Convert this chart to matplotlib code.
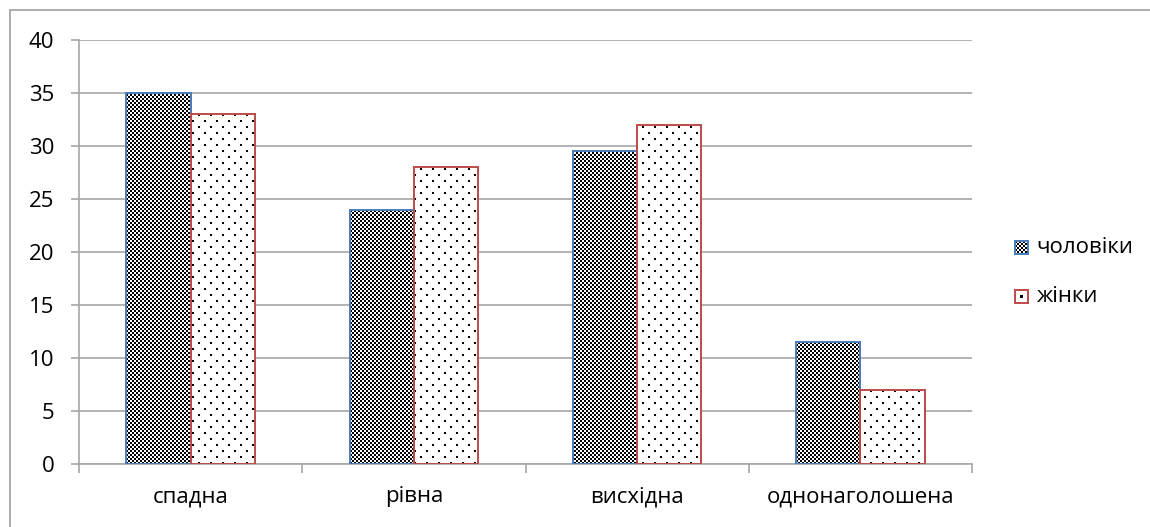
import numpy as np
import matplotlib
matplotlib.use("Agg")
import matplotlib.pyplot as plt
from matplotlib.patches import Rectangle

# ---- data ----
categories = ["спадна", "рівна", "висхідна", "однонаголошена"]
men = [35, 24, 29.5, 11.5]
women = [33, 28, 32, 7]
series_names = ["чоловіки", "жінки"]
y_ticks = [0, 5, 10, 15, 20, 25, 30, 35, 40]

# ---- style ----
W, H, DPI = 1150, 527, 100
FS = 16
GRID = "#A6A6A6"
BLUE = "#4A7EBB"
RED = "#BE4B48"

plt.rcParams["font.family"] = ["Open Sans", "DejaVu Sans"]
plt.rcParams["text.color"] = "#000000"

fig = plt.figure(figsize=(W / DPI, H / DPI), dpi=DPI)
fig.patch.set_facecolor("white")

# chart frame (left and top edges inside the canvas)
fig.add_artist(Rectangle((10 / W, -0.2), 1.3, 1.2 - 10 / H,
                         transform=fig.transFigure, fill=False,
                         edgecolor=GRID, linewidth=1.3))

AX_L, AX_R, AX_T, AX_B = 79, 972, 40, 464
rect = [AX_L / W, 1 - AX_B / H, (AX_R - AX_L) / W, (AX_B - AX_T) / H]
XLIM = (-0.5, len(categories) - 0.5)
YLIM = (0, 40)

# background axes: horizontal gridlines only
ax_bg = fig.add_axes(rect, zorder=0)
ax_bg.set_xlim(*XLIM)
ax_bg.set_ylim(*YLIM)
ax_bg.set_yticks(y_ticks)
ax_bg.set_xticks([])
ax_bg.yaxis.grid(True, color=GRID, linewidth=1.2)
ax_bg.tick_params(axis="y", length=0, labelleft=False)
for sp in ax_bg.spines.values():
    sp.set_visible(False)

# main axes: bars, spines, ticks, labels (transparent background)
ax = fig.add_axes(rect, zorder=2)
ax.patch.set_visible(False)

x = np.arange(len(categories))
bw = 0.288
men_bars = ax.bar(x - bw / 2, men, bw, facecolor="none", edgecolor=BLUE,
                  linewidth=1.4, zorder=3)
women_bars = ax.bar(x + bw / 2, women, bw, facecolor="none", edgecolor=RED,
                    linewidth=1.4, zorder=3)

ax.set_xlim(*XLIM)
ax.set_ylim(*YLIM)
ax.set_yticks(y_ticks)
ax.set_xticks(x)
ax.set_xticklabels(categories, fontsize=FS)
ax.set_xticks(np.arange(-0.5, len(categories), 1.0), minor=True)
ax.tick_params(axis="x", which="major", length=0, pad=16)
ax.tick_params(axis="x", which="minor", length=6.5, width=1.2, color=GRID)
ax.tick_params(axis="y", length=5.8, width=1.2, color=GRID, pad=12,
               labelsize=FS)
for side in ("top", "right"):
    ax.spines[side].set_visible(False)
for side in ("left", "bottom"):
    ax.spines[side].set_color(GRID)
    ax.spines[side].set_linewidth(1.2)


def checker(px, py):
    return (((px // 2) + (py // 2)) % 2).astype(float)


def dots(px, py):
    row = py // 6
    on = (py % 6 < 2) & (((px + (row % 2) * 6) % 12) < 2)
    return np.where(on, 0.0, 1.0)


# pixel-exact pattern rasters covering the plot area, clipped to each bar
gx, gy = np.meshgrid(np.arange(AX_L, AX_R), np.arange(AX_T, AX_B))
for bars, pattern in ((men_bars, checker), (women_bars, dots)):
    raster = pattern(gx, gy)
    for bar in bars:
        im = fig.figimage(raster, xo=AX_L, yo=H - AX_B, origin="upper",
                          cmap="gray", vmin=0, vmax=1, zorder=1)
        im.set_clip_path(bar)

# legend
sw = 13
legend_rows = [(241, checker, BLUE), (290, None, RED)]
for (top, pattern, color), name in zip(legend_rows, series_names):
    sax = fig.add_axes([1015 / W, 1 - (top + sw) / H, sw / W, sw / H])
    if pattern is not None:
        lx, ly = np.meshgrid(np.arange(sw), np.arange(sw))
        img = pattern(lx, ly)
    else:
        img = np.ones((sw, sw))
        img[5:8, 5:8] = 0.0
    sax.imshow(img, cmap="gray", vmin=0, vmax=1, interpolation="nearest",
               aspect="auto")
    sax.set_xticks([])
    sax.set_yticks([])
    for sp in sax.spines.values():
        sp.set_color(color)
        sp.set_linewidth(1.4)
    fig.text(1036 / W, 1 - (top + sw / 2) / H, name, fontsize=FS,
             ha="left", va="center")

fig.savefig("out.png", dpi=DPI)
